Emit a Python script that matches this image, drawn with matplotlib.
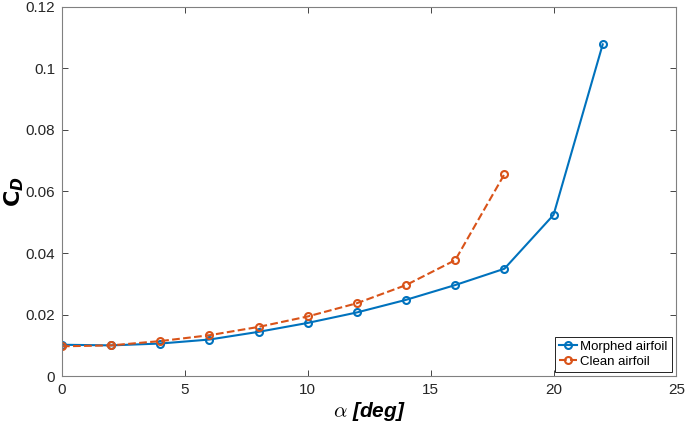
import matplotlib
matplotlib.use("Agg")
import matplotlib.pyplot as plt

# 攻角 (deg) 与阻力系数
alpha_morphed = [0, 2, 4, 6, 8, 10, 12, 14, 16, 18, 20, 22]
cd_morphed = [0.0102, 0.0100, 0.0106, 0.0119, 0.0144, 0.0173, 0.0207,
              0.0248, 0.0296, 0.0349, 0.0524, 0.1078]

alpha_clean = [0, 2, 4, 6, 8, 10, 12, 14, 16, 18]
cd_clean = [0.0097, 0.0100, 0.0114, 0.0133, 0.0160, 0.0194, 0.0237,
            0.0296, 0.0377, 0.0656]

x_ticks = [0, 5, 10, 15, 20, 25]
y_ticks = [0, 0.02, 0.04, 0.06, 0.08, 0.1, 0.12]
y_tick_labels = ["0", "0.02", "0.04", "0.06", "0.08", "0.1", "0.12"]

BLUE = "#0072BD"
ORANGE = "#D95319"
AXIS_GRAY = "#262626"

plt.rcParams["font.family"] = ["Liberation Sans", "DejaVu Sans"]
plt.rcParams["mathtext.fontset"] = "cm"

fig = plt.figure(figsize=(6.85, 4.26), dpi=100)
ax = fig.add_axes([0.0905, 0.117, 0.897, 0.867])

ax.plot(alpha_morphed, cd_morphed, "-o", color=BLUE, linewidth=1.5,
        markersize=5, markerfacecolor="none", markeredgewidth=1.5,
        label="Morphed airfoil")
ax.plot(alpha_clean, cd_clean, "--o", color=ORANGE, linewidth=1.5,
        markersize=5, markerfacecolor="none", markeredgewidth=1.5,
        label="Clean airfoil")

ax.set_xlim(0, 25)
ax.set_ylim(0, 0.12)
ax.set_xticks(x_ticks)
ax.set_yticks(y_ticks)
ax.set_yticklabels(y_tick_labels)

ax.tick_params(direction="in", top=True, right=True, length=4,
               width=0.6, colors=AXIS_GRAY, labelsize=11, pad=5)
for spine in ax.spines.values():
    spine.set_color("#808080")
    spine.set_linewidth(0.8)

ax.set_xlabel(r"$\alpha$ [deg]", fontsize=15, fontweight="bold",
              style="italic", labelpad=2)
ax.set_ylabel(r"$\mathbf{C}_{\mathbfit{D}}$", fontsize=16,
              math_fontfamily="dejavusans")
ax.yaxis.set_label_coords(-0.059, 0.5)

leg = ax.legend(loc="lower right", fontsize=9.5, fancybox=False,
                edgecolor="black", framealpha=1, handlelength=1.3,
                borderpad=0.3, labelspacing=0.2, handletextpad=0.3,
                borderaxespad=0.35)
leg.get_frame().set_linewidth(0.6)

fig.savefig("out.png", dpi=100)
